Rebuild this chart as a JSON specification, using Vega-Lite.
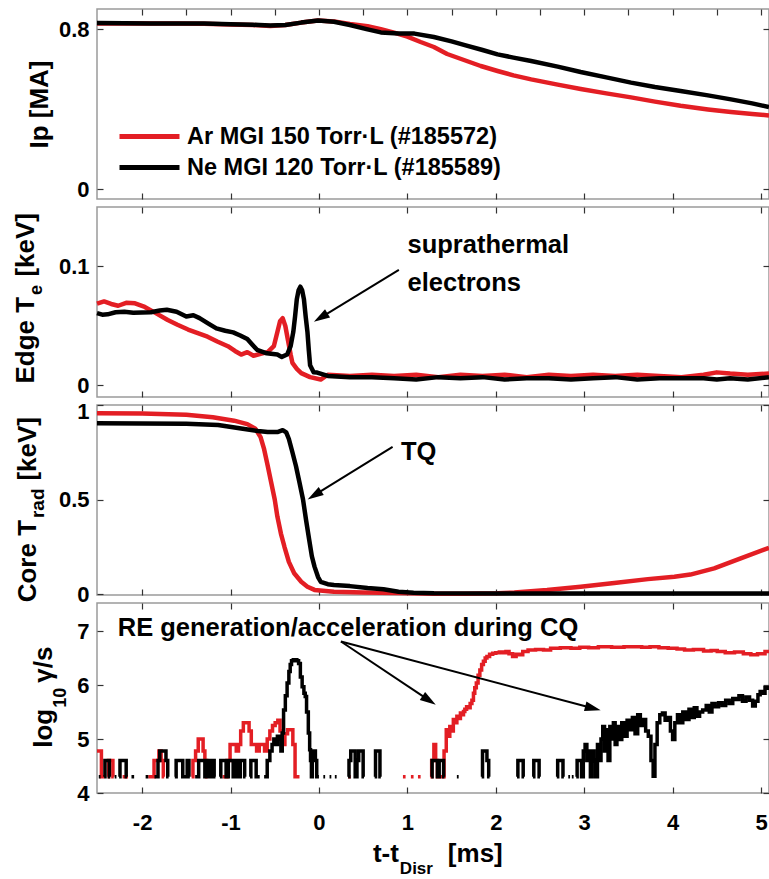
{
"$schema":"https://vega.github.io/schema/vega-lite/v6.json",
"autosize":{"type":"pad"},
"padding":{"left":12,"top":7,"right":0,"bottom":0},
"background":"white",
"spacing":8,
"bounds":"flush",
"resolve":{"scale":{"color":"independent"},"legend":{"color":"independent"}},
"config":{
 "font":"Liberation Sans",
 "view":{"stroke":"#9a9a9a","strokeWidth":1.5},
 "axis":{"domain":false,"grid":false,"ticks":true,"tickColor":"#333","tickSize":-6,"tickWidth":1.2,"labelFont":"Liberation Sans","labelFontSize":22,"labelFontWeight":"bold","labelColor":"#000","labelFlush":false,"labelOverlap":false},
 "text":{"font":"Liberation Sans","fontWeight":"bold","fontSize":26,"color":"#000"},
 "rule":{"color":"#000","strokeWidth":2}
},
"datasets":{
"ip":[
{"s":"Ar","t":-2.51,"v":0.828},{"s":"Ar","t":-2.2,"v":0.829},{"s":"Ar","t":-1.9,"v":0.827},{"s":"Ar","t":-1.6,"v":0.828},{"s":"Ar","t":-1.3,"v":0.826},{"s":"Ar","t":-1.0,"v":0.823},{"s":"Ar","t":-0.75,"v":0.82},{"s":"Ar","t":-0.55,"v":0.815},{"s":"Ar","t":-0.38,"v":0.82},{"s":"Ar","t":-0.2,"v":0.832},{"s":"Ar","t":-0.01,"v":0.842},{"s":"Ar","t":0.17,"v":0.838},{"s":"Ar","t":0.35,"v":0.825},{"s":"Ar","t":0.55,"v":0.814},{"s":"Ar","t":0.7,"v":0.799},{"s":"Ar","t":0.85,"v":0.782},{"s":"Ar","t":1.0,"v":0.762},{"s":"Ar","t":1.15,"v":0.735},{"s":"Ar","t":1.3,"v":0.71},{"s":"Ar","t":1.45,"v":0.675},{"s":"Ar","t":1.64,"v":0.645},{"s":"Ar","t":1.83,"v":0.615},{"s":"Ar","t":2.02,"v":0.59},{"s":"Ar","t":2.2,"v":0.568},{"s":"Ar","t":2.4,"v":0.548},{"s":"Ar","t":2.7,"v":0.522},{"s":"Ar","t":2.96,"v":0.5},{"s":"Ar","t":3.25,"v":0.478},{"s":"Ar","t":3.53,"v":0.458},{"s":"Ar","t":3.8,"v":0.437},{"s":"Ar","t":4.09,"v":0.416},{"s":"Ar","t":4.4,"v":0.398},{"s":"Ar","t":4.66,"v":0.385},{"s":"Ar","t":4.9,"v":0.375},{"s":"Ar","t":5.09,"v":0.368},
{"s":"Ne","t":-2.51,"v":0.83},{"s":"Ne","t":-2.2,"v":0.829},{"s":"Ne","t":-1.9,"v":0.828},{"s":"Ne","t":-1.6,"v":0.828},{"s":"Ne","t":-1.3,"v":0.827},{"s":"Ne","t":-1.0,"v":0.824},{"s":"Ne","t":-0.75,"v":0.821},{"s":"Ne","t":-0.55,"v":0.818},{"s":"Ne","t":-0.38,"v":0.82},{"s":"Ne","t":-0.2,"v":0.832},{"s":"Ne","t":-0.01,"v":0.842},{"s":"Ne","t":0.17,"v":0.836},{"s":"Ne","t":0.35,"v":0.82},{"s":"Ne","t":0.55,"v":0.798},{"s":"Ne","t":0.7,"v":0.783},{"s":"Ne","t":0.9,"v":0.778},{"s":"Ne","t":1.08,"v":0.777},{"s":"Ne","t":1.3,"v":0.76},{"s":"Ne","t":1.5,"v":0.738},{"s":"Ne","t":1.66,"v":0.718},{"s":"Ne","t":1.85,"v":0.695},{"s":"Ne","t":2.02,"v":0.673},{"s":"Ne","t":2.2,"v":0.657},{"s":"Ne","t":2.4,"v":0.64},{"s":"Ne","t":2.7,"v":0.612},{"s":"Ne","t":2.96,"v":0.585},{"s":"Ne","t":3.25,"v":0.558},{"s":"Ne","t":3.53,"v":0.532},{"s":"Ne","t":3.8,"v":0.51},{"s":"Ne","t":4.09,"v":0.49},{"s":"Ne","t":4.4,"v":0.468},{"s":"Ne","t":4.66,"v":0.448},{"s":"Ne","t":4.9,"v":0.428},{"s":"Ne","t":5.09,"v":0.41}
],
"te":[
{"s":"Ar","t":-2.51,"v":0.0687},{"s":"Ar","t":-2.43,"v":0.0706},{"s":"Ar","t":-2.35,"v":0.0685},{"s":"Ar","t":-2.27,"v":0.067},{"s":"Ar","t":-2.18,"v":0.0695},{"s":"Ar","t":-2.08,"v":0.069},{"s":"Ar","t":-1.97,"v":0.066},{"s":"Ar","t":-1.85,"v":0.061},{"s":"Ar","t":-1.71,"v":0.055},{"s":"Ar","t":-1.6,"v":0.051},{"s":"Ar","t":-1.48,"v":0.047},{"s":"Ar","t":-1.37,"v":0.044},{"s":"Ar","t":-1.26,"v":0.041},{"s":"Ar","t":-1.15,"v":0.037},{"s":"Ar","t":-1.03,"v":0.033},{"s":"Ar","t":-0.95,"v":0.029},{"s":"Ar","t":-0.88,"v":0.026},{"s":"Ar","t":-0.81,"v":0.028},{"s":"Ar","t":-0.74,"v":0.025},{"s":"Ar","t":-0.66,"v":0.0266},{"s":"Ar","t":-0.58,"v":0.028},{"s":"Ar","t":-0.51,"v":0.033},{"s":"Ar","t":-0.47,"v":0.045},{"s":"Ar","t":-0.44,"v":0.054},{"s":"Ar","t":-0.41,"v":0.0566},{"s":"Ar","t":-0.38,"v":0.05},{"s":"Ar","t":-0.35,"v":0.038},{"s":"Ar","t":-0.32,"v":0.026},{"s":"Ar","t":-0.3,"v":0.019},{"s":"Ar","t":-0.25,"v":0.014},{"s":"Ar","t":-0.2,"v":0.0104},{"s":"Ar","t":-0.1,"v":0.007},{"s":"Ar","t":0.02,"v":0.005},
{"s":"Ar","t":0.1,"v":0.009},{"s":"Ar","t":0.35,"v":0.008},{"s":"Ar","t":0.6,"v":0.009},{"s":"Ar","t":0.85,"v":0.008},{"s":"Ar","t":1.1,"v":0.009},{"s":"Ar","t":1.35,"v":0.007},{"s":"Ar","t":1.6,"v":0.009},{"s":"Ar","t":1.85,"v":0.008},{"s":"Ar","t":2.1,"v":0.009},{"s":"Ar","t":2.35,"v":0.007},{"s":"Ar","t":2.6,"v":0.009},{"s":"Ar","t":2.85,"v":0.008},{"s":"Ar","t":3.1,"v":0.009},{"s":"Ar","t":3.35,"v":0.008},{"s":"Ar","t":3.6,"v":0.009},{"s":"Ar","t":3.85,"v":0.008},{"s":"Ar","t":4.1,"v":0.007},{"s":"Ar","t":4.35,"v":0.009},{"s":"Ar","t":4.5,"v":0.011},{"s":"Ar","t":4.65,"v":0.01},{"s":"Ar","t":4.85,"v":0.009},{"s":"Ar","t":5.09,"v":0.01},
{"s":"Ne","t":-2.51,"v":0.0608},{"s":"Ne","t":-2.45,"v":0.0595},{"s":"Ne","t":-2.39,"v":0.0598},{"s":"Ne","t":-2.3,"v":0.0615},{"s":"Ne","t":-2.2,"v":0.062},{"s":"Ne","t":-2.1,"v":0.0612},{"s":"Ne","t":-1.9,"v":0.0615},{"s":"Ne","t":-1.8,"v":0.063},{"s":"Ne","t":-1.72,"v":0.0636},{"s":"Ne","t":-1.61,"v":0.062},{"s":"Ne","t":-1.5,"v":0.058},{"s":"Ne","t":-1.42,"v":0.059},{"s":"Ne","t":-1.35,"v":0.0566},{"s":"Ne","t":-1.25,"v":0.052},{"s":"Ne","t":-1.16,"v":0.048},{"s":"Ne","t":-1.06,"v":0.046},{"s":"Ne","t":-0.97,"v":0.0446},{"s":"Ne","t":-0.89,"v":0.042},{"s":"Ne","t":-0.81,"v":0.039},{"s":"Ne","t":-0.75,"v":0.034},{"s":"Ne","t":-0.7,"v":0.03},{"s":"Ne","t":-0.59,"v":0.027},{"s":"Ne","t":-0.47,"v":0.026},{"s":"Ne","t":-0.42,"v":0.024},{"s":"Ne","t":-0.36,"v":0.026},{"s":"Ne","t":-0.32,"v":0.033},{"s":"Ne","t":-0.29,"v":0.045},{"s":"Ne","t":-0.27,"v":0.058},{"s":"Ne","t":-0.25,"v":0.0726},{"s":"Ne","t":-0.23,"v":0.08},{"s":"Ne","t":-0.21,"v":0.083},{"s":"Ne","t":-0.19,"v":0.08},{"s":"Ne","t":-0.17,"v":0.0726},{"s":"Ne","t":-0.15,"v":0.058},{"s":"Ne","t":-0.13,"v":0.045},{"s":"Ne","t":-0.115,"v":0.03},{"s":"Ne","t":-0.1,"v":0.017},{"s":"Ne","t":-0.06,"v":0.011},{"s":"Ne","t":-0.02,"v":0.0108},
{"s":"Ne","t":0.1,"v":0.008},{"s":"Ne","t":0.35,"v":0.007},{"s":"Ne","t":0.6,"v":0.007},{"s":"Ne","t":0.85,"v":0.006},{"s":"Ne","t":1.1,"v":0.005},{"s":"Ne","t":1.35,"v":0.007},{"s":"Ne","t":1.6,"v":0.006},{"s":"Ne","t":1.85,"v":0.007},{"s":"Ne","t":2.1,"v":0.005},{"s":"Ne","t":2.35,"v":0.006},{"s":"Ne","t":2.6,"v":0.006},{"s":"Ne","t":2.85,"v":0.005},{"s":"Ne","t":3.1,"v":0.006},{"s":"Ne","t":3.35,"v":0.007},{"s":"Ne","t":3.6,"v":0.005},{"s":"Ne","t":3.85,"v":0.006},{"s":"Ne","t":4.1,"v":0.006},{"s":"Ne","t":4.35,"v":0.006},{"s":"Ne","t":4.5,"v":0.005},{"s":"Ne","t":4.65,"v":0.006},{"s":"Ne","t":4.85,"v":0.005},{"s":"Ne","t":5.09,"v":0.007}
],
"trad":[
{"s":"Ar","t":-2.51,"v":0.957},{"s":"Ar","t":-2.0,"v":0.955},{"s":"Ar","t":-1.5,"v":0.948},{"s":"Ar","t":-1.2,"v":0.935},{"s":"Ar","t":-0.96,"v":0.917},{"s":"Ar","t":-0.81,"v":0.899},{"s":"Ar","t":-0.72,"v":0.875},{"s":"Ar","t":-0.66,"v":0.83},{"s":"Ar","t":-0.62,"v":0.766},{"s":"Ar","t":-0.58,"v":0.68},{"s":"Ar","t":-0.54,"v":0.59},{"s":"Ar","t":-0.5,"v":0.5},{"s":"Ar","t":-0.47,"v":0.41},{"s":"Ar","t":-0.43,"v":0.32},{"s":"Ar","t":-0.39,"v":0.25},{"s":"Ar","t":-0.34,"v":0.17},{"s":"Ar","t":-0.28,"v":0.11},{"s":"Ar","t":-0.2,"v":0.065},{"s":"Ar","t":-0.13,"v":0.039},{"s":"Ar","t":-0.05,"v":0.022},{"s":"Ar","t":0.17,"v":0.012},{"s":"Ar","t":0.5,"v":0.008},{"s":"Ar","t":0.9,"v":0.005},{"s":"Ar","t":1.3,"v":0.001},{"s":"Ar","t":1.65,"v":0.001},{"s":"Ar","t":2.02,"v":0.004},{"s":"Ar","t":2.21,"v":0.008},{"s":"Ar","t":2.58,"v":0.021},{"s":"Ar","t":2.96,"v":0.039},{"s":"Ar","t":3.34,"v":0.058},{"s":"Ar","t":3.72,"v":0.079},{"s":"Ar","t":4.02,"v":0.092},{"s":"Ar","t":4.2,"v":0.103},{"s":"Ar","t":4.47,"v":0.136},{"s":"Ar","t":4.77,"v":0.189},{"s":"Ar","t":5.09,"v":0.245},
{"s":"Ne","t":-2.51,"v":0.903},{"s":"Ne","t":-1.5,"v":0.901},{"s":"Ne","t":-1.14,"v":0.894},{"s":"Ne","t":-0.88,"v":0.876},{"s":"Ne","t":-0.69,"v":0.862},{"s":"Ne","t":-0.58,"v":0.857},{"s":"Ne","t":-0.47,"v":0.857},{"s":"Ne","t":-0.41,"v":0.867},{"s":"Ne","t":-0.37,"v":0.855},{"s":"Ne","t":-0.34,"v":0.82},{"s":"Ne","t":-0.3,"v":0.75},{"s":"Ne","t":-0.26,"v":0.677},{"s":"Ne","t":-0.22,"v":0.59},{"s":"Ne","t":-0.18,"v":0.5},{"s":"Ne","t":-0.145,"v":0.39},{"s":"Ne","t":-0.11,"v":0.287},{"s":"Ne","t":-0.08,"v":0.2},{"s":"Ne","t":-0.05,"v":0.145},{"s":"Ne","t":-0.01,"v":0.09},{"s":"Ne","t":0.02,"v":0.065},{"s":"Ne","t":0.1,"v":0.052},{"s":"Ne","t":0.17,"v":0.048},{"s":"Ne","t":0.35,"v":0.042},{"s":"Ne","t":0.55,"v":0.032},{"s":"Ne","t":0.73,"v":0.025},{"s":"Ne","t":0.9,"v":0.012},{"s":"Ne","t":1.07,"v":0.007},{"s":"Ne","t":1.3,"v":0.004},{"s":"Ne","t":2.0,"v":0.003},{"s":"Ne","t":3.0,"v":0.003},{"s":"Ne","t":4.0,"v":0.003},{"s":"Ne","t":5.09,"v":0.003}
],
"gam":[
{"s":"Ar","t":-2.51,"v":4.78},{"s":"Ar","t":-2.47,"v":4.78},{"s":"Ar","t":-2.45,"v":4.3},{"s":"Ar","t":-2.43,"v":4.3},{"s":"Ar","t":-2.42,"v":null},
{"s":"Ar","t":-2.39,"v":4.3},{"s":"Ar","t":-2.37,"v":4.6},{"s":"Ar","t":-2.34,"v":4.6},{"s":"Ar","t":-2.32,"v":4.3},{"s":"Ar","t":-2.3,"v":null},
{"s":"Ar","t":-2.22,"v":4.3},{"s":"Ar","t":-2.16,"v":4.3},{"s":"Ar","t":-2.14,"v":null},
{"s":"Ar","t":-1.93,"v":4.3},{"s":"Ar","t":-1.88,"v":4.3},{"s":"Ar","t":-1.85,"v":4.6},{"s":"Ar","t":-1.82,"v":4.6},{"s":"Ar","t":-1.8,"v":4.78},{"s":"Ar","t":-1.77,"v":4.6},{"s":"Ar","t":-1.75,"v":4.3},{"s":"Ar","t":-1.72,"v":null},
{"s":"Ar","t":-1.44,"v":4.3},{"s":"Ar","t":-1.41,"v":4.6},{"s":"Ar","t":-1.38,"v":4.78},{"s":"Ar","t":-1.35,"v":5.0},{"s":"Ar","t":-1.32,"v":5.0},{"s":"Ar","t":-1.3,"v":4.78},{"s":"Ar","t":-1.28,"v":4.6},{"s":"Ar","t":-1.26,"v":4.3},{"s":"Ar","t":-1.24,"v":null},
{"s":"Ar","t":-1.09,"v":4.3},{"s":"Ar","t":-1.06,"v":4.3},{"s":"Ar","t":-1.02,"v":4.6},{"s":"Ar","t":-0.99,"v":4.9},{"s":"Ar","t":-0.95,"v":4.9},{"s":"Ar","t":-0.92,"v":4.78},{"s":"Ar","t":-0.9,"v":4.9},{"s":"Ar","t":-0.87,"v":5.15},{"s":"Ar","t":-0.84,"v":5.3},{"s":"Ar","t":-0.8,"v":5.3},{"s":"Ar","t":-0.78,"v":5.15},{"s":"Ar","t":-0.75,"v":4.9},{"s":"Ar","t":-0.72,"v":4.9},{"s":"Ar","t":-0.69,"v":4.78},{"s":"Ar","t":-0.66,"v":4.9},{"s":"Ar","t":-0.63,"v":4.9},{"s":"Ar","t":-0.6,"v":4.78},{"s":"Ar","t":-0.57,"v":5.0},{"s":"Ar","t":-0.54,"v":5.15},{"s":"Ar","t":-0.51,"v":5.25},{"s":"Ar","t":-0.48,"v":5.3},{"s":"Ar","t":-0.45,"v":5.35},{"s":"Ar","t":-0.43,"v":5.15},{"s":"Ar","t":-0.4,"v":4.9},{"s":"Ar","t":-0.37,"v":5.1},{"s":"Ar","t":-0.34,"v":5.17},{"s":"Ar","t":-0.31,"v":5.17},{"s":"Ar","t":-0.28,"v":4.9},{"s":"Ar","t":-0.26,"v":4.3},{"s":"Ar","t":-0.22,"v":4.3},{"s":"Ar","t":-0.2,"v":null},
{"s":"Ar","t":0.33,"v":4.3},{"s":"Ar","t":0.36,"v":4.3},{"s":"Ar","t":0.38,"v":null},
{"s":"Ar","t":0.95,"v":4.3},{"s":"Ar","t":0.98,"v":4.3},{"s":"Ar","t":1.0,"v":null},{"s":"Ar","t":1.04,"v":4.3},{"s":"Ar","t":1.07,"v":4.3},{"s":"Ar","t":1.09,"v":null},{"s":"Ar","t":1.12,"v":4.3},{"s":"Ar","t":1.15,"v":4.3},{"s":"Ar","t":1.17,"v":null},
{"s":"Ar","t":1.26,"v":4.3},{"s":"Ar","t":1.29,"v":4.6},{"s":"Ar","t":1.31,"v":4.9},{"s":"Ar","t":1.33,"v":4.6},{"s":"Ar","t":1.35,"v":4.3},{"s":"Ar","t":1.4,"v":4.3},{"s":"Ar","t":1.43,"v":4.78},{"s":"Ar","t":1.45,"v":5.17},{"s":"Ar","t":1.47,"v":5.05},{"s":"Ar","t":1.49,"v":5.23},{"s":"Ar","t":1.51,"v":5.15},{"s":"Ar","t":1.53,"v":5.36},{"s":"Ar","t":1.55,"v":5.3},{"s":"Ar","t":1.57,"v":5.42},{"s":"Ar","t":1.59,"v":5.38},{"s":"Ar","t":1.61,"v":5.48},{"s":"Ar","t":1.63,"v":5.45},{"s":"Ar","t":1.64,"v":5.51},{"s":"Ar","t":1.66,"v":5.55},{"s":"Ar","t":1.68,"v":5.6},{"s":"Ar","t":1.7,"v":5.58},{"s":"Ar","t":1.72,"v":5.66},{"s":"Ar","t":1.74,"v":5.72},{"s":"Ar","t":1.755,"v":5.85},{"s":"Ar","t":1.77,"v":5.95},{"s":"Ar","t":1.79,"v":6.04},{"s":"Ar","t":1.81,"v":6.18},{"s":"Ar","t":1.83,"v":6.28},{"s":"Ar","t":1.85,"v":6.38},{"s":"Ar","t":1.87,"v":6.44},{"s":"Ar","t":1.89,"v":6.5},{"s":"Ar","t":1.91,"v":6.53},{"s":"Ar","t":1.95,"v":6.57},{"s":"Ar","t":1.98,"v":6.59},{"s":"Ar","t":2.02,"v":6.6},{"s":"Ar","t":2.06,"v":6.61},{"s":"Ar","t":2.1,"v":6.6},{"s":"Ar","t":2.13,"v":6.62},{"s":"Ar","t":2.17,"v":6.58},{"s":"Ar","t":2.21,"v":6.53},{"s":"Ar","t":2.25,"v":6.57},{"s":"Ar","t":2.28,"v":6.56},{"s":"Ar","t":2.33,"v":6.62},{"s":"Ar","t":2.4,"v":6.65},{"s":"Ar","t":2.5,"v":6.66},{"s":"Ar","t":2.58,"v":6.65},{"s":"Ar","t":2.66,"v":6.68},{"s":"Ar","t":2.8,"v":6.69},{"s":"Ar","t":2.9,"v":6.68},{"s":"Ar","t":3.0,"v":6.7},{"s":"Ar","t":3.1,"v":6.69},{"s":"Ar","t":3.22,"v":6.71},{"s":"Ar","t":3.4,"v":6.7},{"s":"Ar","t":3.5,"v":6.71},{"s":"Ar","t":3.6,"v":6.71},{"s":"Ar","t":3.7,"v":6.7},{"s":"Ar","t":3.79,"v":6.71},{"s":"Ar","t":3.9,"v":6.69},{"s":"Ar","t":4.0,"v":6.68},{"s":"Ar","t":4.1,"v":6.67},{"s":"Ar","t":4.17,"v":6.65},{"s":"Ar","t":4.3,"v":6.66},{"s":"Ar","t":4.4,"v":6.63},{"s":"Ar","t":4.47,"v":6.64},{"s":"Ar","t":4.54,"v":6.62},{"s":"Ar","t":4.65,"v":6.6},{"s":"Ar","t":4.75,"v":6.61},{"s":"Ar","t":4.85,"v":6.58},{"s":"Ar","t":4.92,"v":6.56},{"s":"Ar","t":5.0,"v":6.58},{"s":"Ar","t":5.09,"v":6.62},
{"s":"Ne","t":-2.49,"v":4.3},{"s":"Ne","t":-2.47,"v":4.3},{"s":"Ne","t":-2.45,"v":null},
{"s":"Ne","t":-2.43,"v":4.3},{"s":"Ne","t":-2.41,"v":4.6},{"s":"Ne","t":-2.38,"v":4.6},{"s":"Ne","t":-2.36,"v":4.3},{"s":"Ne","t":-2.34,"v":null},
{"s":"Ne","t":-2.31,"v":4.3},{"s":"Ne","t":-2.29,"v":4.3},{"s":"Ne","t":-2.28,"v":null},
{"s":"Ne","t":-2.26,"v":4.3},{"s":"Ne","t":-2.24,"v":4.6},{"s":"Ne","t":-2.19,"v":4.6},{"s":"Ne","t":-2.17,"v":4.3},{"s":"Ne","t":-2.15,"v":null},
{"s":"Ne","t":-2.12,"v":4.3},{"s":"Ne","t":-2.09,"v":4.3},{"s":"Ne","t":-2.08,"v":null},
{"s":"Ne","t":-1.96,"v":4.3},{"s":"Ne","t":-1.93,"v":4.3},{"s":"Ne","t":-1.91,"v":null},
{"s":"Ne","t":-1.86,"v":4.3},{"s":"Ne","t":-1.83,"v":4.3},{"s":"Ne","t":-1.81,"v":4.6},{"s":"Ne","t":-1.79,"v":4.78},{"s":"Ne","t":-1.74,"v":4.78},{"s":"Ne","t":-1.72,"v":4.6},{"s":"Ne","t":-1.7,"v":4.3},{"s":"Ne","t":-1.68,"v":null},
{"s":"Ne","t":-1.63,"v":4.3},{"s":"Ne","t":-1.6,"v":4.6},{"s":"Ne","t":-1.55,"v":4.6},{"s":"Ne","t":-1.53,"v":4.3},{"s":"Ne","t":-1.5,"v":4.3},{"s":"Ne","t":-1.48,"v":4.6},{"s":"Ne","t":-1.46,"v":4.3},{"s":"Ne","t":-1.44,"v":null},
{"s":"Ne","t":-1.4,"v":4.3},{"s":"Ne","t":-1.37,"v":4.3},{"s":"Ne","t":-1.35,"v":4.6},{"s":"Ne","t":-1.3,"v":4.6},{"s":"Ne","t":-1.28,"v":4.3},{"s":"Ne","t":-1.25,"v":4.6},{"s":"Ne","t":-1.22,"v":4.3},{"s":"Ne","t":-1.2,"v":4.6},{"s":"Ne","t":-1.17,"v":4.3},{"s":"Ne","t":-1.15,"v":null},
{"s":"Ne","t":-1.12,"v":4.3},{"s":"Ne","t":-1.1,"v":4.6},{"s":"Ne","t":-1.06,"v":4.6},{"s":"Ne","t":-1.04,"v":4.3},{"s":"Ne","t":-1.01,"v":4.6},{"s":"Ne","t":-0.98,"v":4.6},{"s":"Ne","t":-0.96,"v":4.3},{"s":"Ne","t":-0.93,"v":4.6},{"s":"Ne","t":-0.9,"v":4.3},{"s":"Ne","t":-0.88,"v":4.6},{"s":"Ne","t":-0.85,"v":4.6},{"s":"Ne","t":-0.83,"v":4.3},{"s":"Ne","t":-0.81,"v":null},
{"s":"Ne","t":-0.78,"v":4.3},{"s":"Ne","t":-0.76,"v":4.6},{"s":"Ne","t":-0.72,"v":4.6},{"s":"Ne","t":-0.7,"v":4.3},{"s":"Ne","t":-0.67,"v":4.3},{"s":"Ne","t":-0.65,"v":null},
{"s":"Ne","t":-0.62,"v":4.3},{"s":"Ne","t":-0.6,"v":4.3},{"s":"Ne","t":-0.57,"v":4.6},{"s":"Ne","t":-0.54,"v":4.78},{"s":"Ne","t":-0.52,"v":4.9},{"s":"Ne","t":-0.5,"v":5.0},{"s":"Ne","t":-0.48,"v":4.9},{"s":"Ne","t":-0.46,"v":5.05},{"s":"Ne","t":-0.44,"v":5.0},{"s":"Ne","t":-0.42,"v":4.78},{"s":"Ne","t":-0.41,"v":5.11},{"s":"Ne","t":-0.39,"v":5.54},{"s":"Ne","t":-0.37,"v":5.8},{"s":"Ne","t":-0.35,"v":6.04},{"s":"Ne","t":-0.33,"v":6.25},{"s":"Ne","t":-0.32,"v":6.38},{"s":"Ne","t":-0.3,"v":6.45},{"s":"Ne","t":-0.28,"v":6.47},{"s":"Ne","t":-0.26,"v":6.47},{"s":"Ne","t":-0.24,"v":6.45},{"s":"Ne","t":-0.22,"v":6.4},{"s":"Ne","t":-0.2,"v":6.15},{"s":"Ne","t":-0.18,"v":5.97},{"s":"Ne","t":-0.16,"v":5.85},{"s":"Ne","t":-0.15,"v":5.79},{"s":"Ne","t":-0.13,"v":5.5},{"s":"Ne","t":-0.11,"v":5.11},{"s":"Ne","t":-0.1,"v":4.8},{"s":"Ne","t":-0.09,"v":4.6},{"s":"Ne","t":-0.08,"v":4.3},{"s":"Ne","t":-0.07,"v":4.6},{"s":"Ne","t":-0.05,"v":4.78},{"s":"Ne","t":-0.03,"v":4.6},{"s":"Ne","t":-0.02,"v":4.3},{"s":"Ne","t":0.0,"v":4.3},{"s":"Ne","t":0.02,"v":null},
{"s":"Ne","t":0.05,"v":4.3},{"s":"Ne","t":0.07,"v":4.3},{"s":"Ne","t":0.08,"v":null},{"s":"Ne","t":0.12,"v":4.3},{"s":"Ne","t":0.14,"v":4.3},{"s":"Ne","t":0.15,"v":null},{"s":"Ne","t":0.18,"v":4.3},{"s":"Ne","t":0.2,"v":4.3},{"s":"Ne","t":0.21,"v":null},
{"s":"Ne","t":0.33,"v":4.3},{"s":"Ne","t":0.35,"v":4.6},{"s":"Ne","t":0.37,"v":4.78},{"s":"Ne","t":0.4,"v":4.78},{"s":"Ne","t":0.42,"v":4.3},{"s":"Ne","t":0.44,"v":4.6},{"s":"Ne","t":0.46,"v":4.78},{"s":"Ne","t":0.49,"v":4.78},{"s":"Ne","t":0.51,"v":4.3},{"s":"Ne","t":0.53,"v":null},
{"s":"Ne","t":0.63,"v":4.3},{"s":"Ne","t":0.65,"v":4.78},{"s":"Ne","t":0.68,"v":4.78},{"s":"Ne","t":0.7,"v":4.3},{"s":"Ne","t":0.72,"v":null},
{"s":"Ne","t":1.27,"v":4.3},{"s":"Ne","t":1.29,"v":4.6},{"s":"Ne","t":1.33,"v":4.6},{"s":"Ne","t":1.35,"v":4.3},{"s":"Ne","t":1.37,"v":4.6},{"s":"Ne","t":1.4,"v":4.6},{"s":"Ne","t":1.42,"v":4.3},{"s":"Ne","t":1.44,"v":null},
{"s":"Ne","t":1.56,"v":4.3},{"s":"Ne","t":1.58,"v":4.3},{"s":"Ne","t":1.59,"v":null},
{"s":"Ne","t":1.84,"v":4.3},{"s":"Ne","t":1.86,"v":4.78},{"s":"Ne","t":1.89,"v":4.78},{"s":"Ne","t":1.91,"v":4.6},{"s":"Ne","t":1.93,"v":4.3},{"s":"Ne","t":1.95,"v":null},
{"s":"Ne","t":2.24,"v":4.3},{"s":"Ne","t":2.26,"v":4.6},{"s":"Ne","t":2.3,"v":4.6},{"s":"Ne","t":2.32,"v":4.3},{"s":"Ne","t":2.34,"v":null},
{"s":"Ne","t":2.42,"v":4.3},{"s":"Ne","t":2.44,"v":4.6},{"s":"Ne","t":2.48,"v":4.6},{"s":"Ne","t":2.5,"v":4.3},{"s":"Ne","t":2.52,"v":null},
{"s":"Ne","t":2.69,"v":4.3},{"s":"Ne","t":2.71,"v":4.6},{"s":"Ne","t":2.75,"v":4.6},{"s":"Ne","t":2.77,"v":4.3},{"s":"Ne","t":2.79,"v":null},
{"s":"Ne","t":2.82,"v":4.3},{"s":"Ne","t":2.84,"v":4.3},{"s":"Ne","t":2.85,"v":null},{"s":"Ne","t":2.86,"v":4.3},{"s":"Ne","t":2.88,"v":4.3},{"s":"Ne","t":2.89,"v":null},
{"s":"Ne","t":2.91,"v":4.3},{"s":"Ne","t":2.93,"v":4.6},{"s":"Ne","t":2.96,"v":4.6},{"s":"Ne","t":2.98,"v":4.3},{"s":"Ne","t":3.0,"v":4.78},{"s":"Ne","t":3.02,"v":4.9},{"s":"Ne","t":3.04,"v":4.6},{"s":"Ne","t":3.06,"v":4.78},{"s":"Ne","t":3.08,"v":4.3},{"s":"Ne","t":3.1,"v":4.78},{"s":"Ne","t":3.12,"v":4.6},{"s":"Ne","t":3.14,"v":4.3},{"s":"Ne","t":3.16,"v":4.9},{"s":"Ne","t":3.18,"v":4.6},{"s":"Ne","t":3.2,"v":5.0},{"s":"Ne","t":3.22,"v":5.23},{"s":"Ne","t":3.24,"v":4.78},{"s":"Ne","t":3.26,"v":5.17},{"s":"Ne","t":3.28,"v":4.6},{"s":"Ne","t":3.3,"v":5.23},{"s":"Ne","t":3.32,"v":5.0},{"s":"Ne","t":3.34,"v":5.3},{"s":"Ne","t":3.36,"v":4.9},{"s":"Ne","t":3.38,"v":5.23},{"s":"Ne","t":3.41,"v":4.99},{"s":"Ne","t":3.44,"v":5.3},{"s":"Ne","t":3.47,"v":5.05},{"s":"Ne","t":3.5,"v":5.35},{"s":"Ne","t":3.53,"v":5.17},{"s":"Ne","t":3.56,"v":5.4},{"s":"Ne","t":3.59,"v":5.1},{"s":"Ne","t":3.62,"v":5.45},{"s":"Ne","t":3.65,"v":5.25},{"s":"Ne","t":3.68,"v":5.36},{"s":"Ne","t":3.71,"v":5.15},{"s":"Ne","t":3.74,"v":5.05},{"s":"Ne","t":3.77,"v":4.6},{"s":"Ne","t":3.79,"v":4.31},{"s":"Ne","t":3.81,"v":4.9},{"s":"Ne","t":3.84,"v":5.3},{"s":"Ne","t":3.87,"v":5.45},{"s":"Ne","t":3.9,"v":5.48},{"s":"Ne","t":3.93,"v":5.35},{"s":"Ne","t":3.96,"v":5.4},{"s":"Ne","t":3.99,"v":5.15},{"s":"Ne","t":4.01,"v":4.99},{"s":"Ne","t":4.04,"v":5.3},{"s":"Ne","t":4.07,"v":5.45},{"s":"Ne","t":4.1,"v":5.3},{"s":"Ne","t":4.13,"v":5.5},{"s":"Ne","t":4.17,"v":5.36},{"s":"Ne","t":4.2,"v":5.55},{"s":"Ne","t":4.23,"v":5.4},{"s":"Ne","t":4.26,"v":5.58},{"s":"Ne","t":4.29,"v":5.42},{"s":"Ne","t":4.32,"v":5.5},{"s":"Ne","t":4.36,"v":5.54},{"s":"Ne","t":4.4,"v":5.62},{"s":"Ne","t":4.43,"v":5.5},{"s":"Ne","t":4.46,"v":5.66},{"s":"Ne","t":4.5,"v":5.6},{"s":"Ne","t":4.54,"v":5.67},{"s":"Ne","t":4.58,"v":5.62},{"s":"Ne","t":4.62,"v":5.72},{"s":"Ne","t":4.66,"v":5.66},{"s":"Ne","t":4.7,"v":5.75},{"s":"Ne","t":4.73,"v":5.73},{"s":"Ne","t":4.77,"v":5.8},{"s":"Ne","t":4.81,"v":5.7},{"s":"Ne","t":4.85,"v":5.78},{"s":"Ne","t":4.89,"v":5.72},{"s":"Ne","t":4.92,"v":5.61},{"s":"Ne","t":4.95,"v":5.7},{"s":"Ne","t":4.98,"v":5.82},{"s":"Ne","t":5.0,"v":5.88},{"s":"Ne","t":5.03,"v":5.85},{"s":"Ne","t":5.06,"v":5.95},{"s":"Ne","t":5.09,"v":5.94}
]
},
"vconcat":[
{
 "width":672,"height":190,
 "resolve":{"axis":{"x":"independent","y":"independent"}},
 "layer":[
  {"data":{"name":"ip"},"mark":{"type":"line","strokeWidth":4.5,"strokeJoin":"round"},
   "encoding":{
    "x":{"field":"t","type":"quantitative","scale":{"domain":[-2.51,5.09],"nice":false,"zero":false},"axis":{"orient":"bottom","values":[-2,-1,0,1,2,3,4,5],"labels":false,"title":null}},
    "y":{"field":"v","type":"quantitative","scale":{"domain":[-0.05,0.9],"nice":false,"zero":false},"axis":{"orient":"left","values":[0,0.8],"title":null,"labelExpr":"toString(datum.value)","labelPadding":14}},
    "color":{"field":"s","type":"nominal","scale":{"domain":["Ar","Ne"],"range":["#e31e24","#000000"]},
     "legend":{"orient":"none","legendX":35,"legendY":110,"title":null,"symbolType":"M-2,0L2,0","symbolSize":900,"symbolStrokeWidth":5,"labelFont":"Liberation Sans","labelFontSize":23.5,"labelFontWeight":"bold","labelColor":"#000","labelOffset":20,"labelLimit":600,"rowPadding":2,"padding":0,
      "labelExpr":"datum.label == 'Ar' ? 'Ar MGI 150 Torr·L (#185572)' : 'Ne MGI 120 Torr·L (#185589)'"}}
   }},
  {"data":{"name":"ip"},"mark":{"type":"point","opacity":0},
   "encoding":{
    "x":{"field":"t","type":"quantitative","scale":{"domain":[-2.51,5.09],"nice":false,"zero":false},"axis":{"orient":"top","values":[-2,-1.5,-1,-0.5,0,0.5,1,1.5,2,2.5,3,3.5,4,4.5,5],"labels":false,"title":null}},
    "y":{"field":"v","type":"quantitative","scale":{"domain":[-0.05,0.9],"nice":false,"zero":false},"axis":{"orient":"right","values":[0,0.8],"labels":false,"title":null}}
   }},
  {"data":{"values":[{}]},"mark":{"type":"text","angle":270,"align":"center","baseline":"alphabetic"},
   "encoding":{"x":{"datum":-3.062,"axis":null},"y":{"datum":0.4225,"axis":null},"text":{"value":"Ip [MA]"}}}
 ]
},
{
 "width":672,"height":190,
 "resolve":{"axis":{"x":"independent","y":"independent"}},
 "layer":[
  {"data":{"name":"te"},"mark":{"type":"line","strokeWidth":4.5,"strokeJoin":"round"},
   "encoding":{
    "x":{"field":"t","type":"quantitative","scale":{"domain":[-2.51,5.09],"nice":false,"zero":false},"axis":{"orient":"bottom","values":[-2,-1,0,1,2,3,4,5],"labels":false,"title":null}},
    "y":{"field":"v","type":"quantitative","scale":{"domain":[-0.0097,0.15],"nice":false,"zero":false},"axis":{"orient":"left","values":[0,0.1],"title":null,"labelExpr":"toString(datum.value)","labelPadding":14}},
    "color":{"field":"s","type":"nominal","scale":{"domain":["Ar","Ne"],"range":["#e31e24","#000000"]},"legend":null}
   }},
  {"data":{"name":"te"},"mark":{"type":"point","opacity":0},
   "encoding":{
    "x":{"field":"t","type":"quantitative","scale":{"domain":[-2.51,5.09],"nice":false,"zero":false},"axis":{"orient":"top","values":[-2,-1,0,1,2,3,4,5],"labels":false,"title":null}},
    "y":{"field":"v","type":"quantitative","scale":{"domain":[-0.0097,0.15],"nice":false,"zero":false},"axis":{"orient":"right","values":[0,0.1],"labels":false,"title":null}}
   }},
  {"data":{"values":[{}]},"mark":{"type":"text","angle":270,"align":"right","baseline":"alphabetic"},
   "encoding":{"x":{"datum":-3.22,"axis":null},"y":{"datum":0.0745,"axis":null},"text":{"value":"Edge T"}}},
  {"data":{"values":[{}]},"mark":{"type":"text","angle":270,"align":"left","baseline":"alphabetic","fontSize":18,"dy":8},
   "encoding":{"x":{"datum":-3.22,"axis":null},"y":{"datum":0.076,"axis":null},"text":{"value":"e"}}},
  {"data":{"values":[{}]},"mark":{"type":"text","angle":270,"align":"left","baseline":"alphabetic"},
   "encoding":{"x":{"datum":-3.22,"axis":null},"y":{"datum":0.0915,"axis":null},"text":{"value":"[keV]"}}},
  {"data":{"values":[{}]},"mark":{"type":"text","align":"left","baseline":"alphabetic","fontSize":25.5},
   "encoding":{"x":{"datum":1.002,"axis":null},"y":{"datum":0.1113,"axis":null},"text":{"value":"suprathermal"}}},
  {"data":{"values":[{}]},"mark":{"type":"text","align":"left","baseline":"alphabetic","fontSize":25.5},
   "encoding":{"x":{"datum":1.002,"axis":null},"y":{"datum":0.0798,"axis":null},"text":{"value":"electrons"}}},
  {"data":{"values":[{}]},"mark":{"type":"rule"},
   "encoding":{"x":{"datum":0.904,"axis":null},"y":{"datum":0.0972,"axis":null},"x2":{"datum":0.02},"y2":{"datum":0.0571}}},
  {"data":{"values":[{}]},"mark":{"type":"point","shape":"M1,0L-1,-0.6L-1,0.6Z","size":256,"filled":true,"opacity":1,"color":"#000","angle":148.5},
   "encoding":{"x":{"datum":0.02,"axis":null},"y":{"datum":0.0571,"axis":null}}}
 ]
},
{
 "width":672,"height":190,
 "resolve":{"axis":{"x":"independent","y":"independent"}},
 "layer":[
  {"data":{"name":"trad"},"mark":{"type":"line","strokeWidth":4.5,"strokeJoin":"round"},
   "encoding":{
    "x":{"field":"t","type":"quantitative","scale":{"domain":[-2.51,5.09],"nice":false,"zero":false},"axis":{"orient":"bottom","values":[-2,-1,0,1,2,3,4,5],"labels":false,"title":null}},
    "y":{"field":"v","type":"quantitative","scale":{"domain":[-0.005,1.0],"nice":false,"zero":false},"axis":{"orient":"left","values":[0,0.5,1],"title":null,"labelExpr":"toString(datum.value)","labelPadding":14,"labelOffset":{"condition":{"test":"datum.value == 1","value":6},"value":0}}},
    "color":{"field":"s","type":"nominal","scale":{"domain":["Ar","Ne"],"range":["#e31e24","#000000"]},"legend":null}
   }},
  {"data":{"name":"trad"},"mark":{"type":"point","opacity":0},
   "encoding":{
    "x":{"field":"t","type":"quantitative","scale":{"domain":[-2.51,5.09],"nice":false,"zero":false},"axis":{"orient":"top","values":[-2,-1,0,1,2,3,4,5],"labels":false,"title":null}},
    "y":{"field":"v","type":"quantitative","scale":{"domain":[-0.005,1.0],"nice":false,"zero":false},"axis":{"orient":"right","values":[0,0.5,1],"labels":false,"title":null}}
   }},
  {"data":{"values":[{}]},"mark":{"type":"text","angle":270,"align":"right","baseline":"alphabetic"},
   "encoding":{"x":{"datum":-3.198,"axis":null},"y":{"datum":0.392,"axis":null},"text":{"value":"Core T"}}},
  {"data":{"values":[{}]},"mark":{"type":"text","angle":270,"align":"left","baseline":"alphabetic","fontSize":19,"dy":8},
   "encoding":{"x":{"datum":-3.198,"axis":null},"y":{"datum":0.402,"axis":null},"text":{"value":"rad"}}},
  {"data":{"values":[{}]},"mark":{"type":"text","angle":270,"align":"left","baseline":"alphabetic"},
   "encoding":{"x":{"datum":-3.198,"axis":null},"y":{"datum":0.6,"axis":null},"text":{"value":"[keV]"}}},
  {"data":{"values":[{}]},"mark":{"type":"text","align":"left","baseline":"alphabetic","fontSize":25.5},
   "encoding":{"x":{"datum":0.927,"axis":null},"y":{"datum":0.709,"axis":null},"text":{"value":"TQ"}}},
  {"data":{"values":[{}]},"mark":{"type":"rule"},
   "encoding":{"x":{"datum":0.833,"axis":null},"y":{"datum":0.779,"axis":null},"x2":{"datum":-0.051},"y2":{"datum":0.523}}},
  {"data":{"values":[{}]},"mark":{"type":"point","shape":"M1,0L-1,-0.6L-1,0.6Z","size":256,"filled":true,"opacity":1,"color":"#000","angle":148.3},
   "encoding":{"x":{"datum":-0.051,"axis":null},"y":{"datum":0.523,"axis":null}}}
 ]
},
{
 "width":672,"height":190,
 "resolve":{"axis":{"x":"independent","y":"independent"}},
 "layer":[
  {"data":{"name":"gam"},"mark":{"type":"line","strokeWidth":3.5,"strokeJoin":"miter","interpolate":"step"},
   "encoding":{
    "x":{"field":"t","type":"quantitative","scale":{"domain":[-2.51,5.09],"nice":false,"zero":false},"axis":{"orient":"bottom","values":[-2,-1,0,1,2,3,4,5],"labels":true,"title":null,"labelExpr":"toString(datum.value)","labelPadding":25}},
    "y":{"field":"v","type":"quantitative","scale":{"domain":[4,7.52],"nice":false,"zero":false},"axis":{"orient":"left","values":[4,5,6,7],"title":null,"labelExpr":"toString(datum.value)","labelPadding":14}},
    "color":{"field":"s","type":"nominal","scale":{"domain":["Ar","Ne"],"range":["#e31e24","#000000"]},"legend":null}
   }},
  {"data":{"name":"gam"},"mark":{"type":"point","opacity":0},
   "encoding":{
    "x":{"field":"t","type":"quantitative","scale":{"domain":[-2.51,5.09],"nice":false,"zero":false},"axis":{"orient":"top","values":[-2,-1,0,1,2,3,4,5],"labels":false,"title":null}},
    "y":{"field":"v","type":"quantitative","scale":{"domain":[4,7.52],"nice":false,"zero":false},"axis":{"orient":"right","values":[4,5,6,7],"labels":false,"title":null}}
   }},
  {"data":{"values":[{}]},"mark":{"type":"text","angle":270,"align":"right","baseline":"alphabetic"},
   "encoding":{"x":{"datum":-3.017,"axis":null},"y":{"datum":5.561,"axis":null},"text":{"value":"log"}}},
  {"data":{"values":[{}]},"mark":{"type":"text","angle":270,"align":"left","baseline":"alphabetic","fontSize":18,"dy":14},
   "encoding":{"x":{"datum":-3.017,"axis":null},"y":{"datum":5.58,"axis":null},"text":{"value":"10"}}},
  {"data":{"values":[{}]},"mark":{"type":"text","angle":270,"align":"left","baseline":"alphabetic"},
   "encoding":{"x":{"datum":-3.017,"axis":null},"y":{"datum":6.043,"axis":null},"text":{"value":"γ/s"}}},
  {"data":{"values":[{}]},"mark":{"type":"text","align":"left","baseline":"alphabetic","fontSize":25.5},
   "encoding":{"x":{"datum":-2.275,"axis":null},"y":{"datum":6.9,"axis":null},"text":{"value":"RE generation/acceleration during CQ"}}},
  {"data":{"values":[{}]},"mark":{"type":"rule"},
   "encoding":{"x":{"datum":0.249,"axis":null},"y":{"datum":6.807,"axis":null},"x2":{"datum":1.246},"y2":{"datum":5.717}}},
  {"data":{"values":[{}]},"mark":{"type":"point","shape":"M1,0L-1,-0.6L-1,0.6Z","size":256,"filled":true,"opacity":1,"color":"#000","angle":33.7},
   "encoding":{"x":{"datum":1.246,"axis":null},"y":{"datum":5.717,"axis":null}}},
  {"data":{"values":[{}]},"mark":{"type":"rule"},
   "encoding":{"x":{"datum":0.249,"axis":null},"y":{"datum":6.807,"axis":null},"x2":{"datum":3.099},"y2":{"datum":5.569}}},
  {"data":{"values":[{}]},"mark":{"type":"point","shape":"M1,0L-1,-0.6L-1,0.6Z","size":256,"filled":true,"opacity":1,"color":"#000","angle":14.9},
   "encoding":{"x":{"datum":3.099,"axis":null},"y":{"datum":5.569,"axis":null}}},
  {"data":{"values":[{}]},"mark":{"type":"text","align":"right","baseline":"alphabetic"},
   "encoding":{"x":{"datum":0.904,"axis":null},"y":{"datum":2.728,"axis":null},"text":{"value":"t-t"}}},
  {"data":{"values":[{}]},"mark":{"type":"text","align":"left","baseline":"alphabetic","fontSize":17,"dy":12,"dx":1},
   "encoding":{"x":{"datum":0.904,"axis":null},"y":{"datum":2.728,"axis":null},"text":{"value":"Disr"}}},
  {"data":{"values":[{}]},"mark":{"type":"text","align":"left","baseline":"alphabetic"},
   "encoding":{"x":{"datum":1.458,"axis":null},"y":{"datum":2.728,"axis":null},"text":{"value":"[ms]"}}}
 ]
}
]
}
